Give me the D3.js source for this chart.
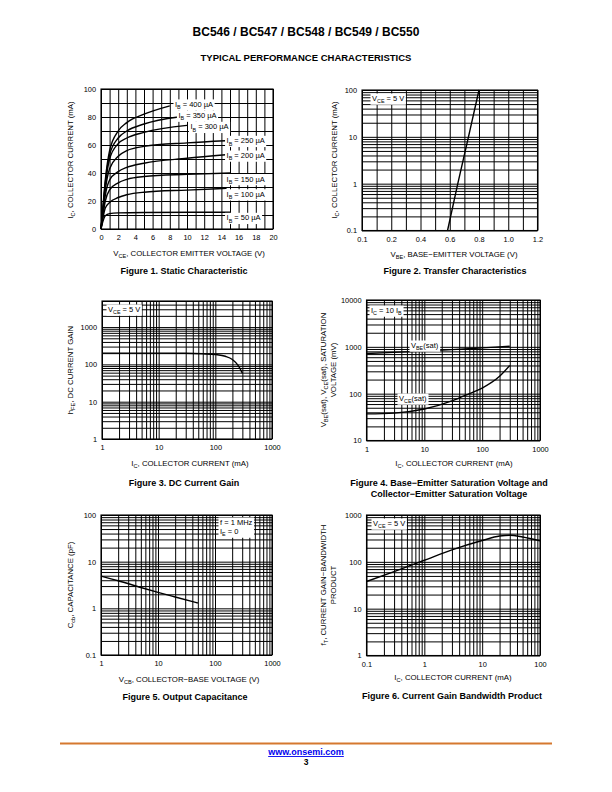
<!DOCTYPE html>
<html>
<head>
<meta charset="utf-8">
<script src="https://cdn.jsdelivr.net/npm/d3@7"></script>
<style>
body { margin: 0; background: #fff; }
text { font-family: "Liberation Sans", Arial, Helvetica, sans-serif; fill: #000; }
</style>
</head>
<body>
<svg id="page" width="612" height="792"></svg>
<script>

// Figure 1 - static characteristic, points are [VCE (V), IC (mA)]
var ib400 = [[0,0],[0.2,14],[0.5,35],[1,56],[2,70],[3,76],[5,82],[8,88]];
var ib350 = [[0,0],[0.2,13],[0.5,33],[1,53],[2,65],[3,70],[5,75],[9,80]];
var ib300 = [[0,0],[0.2,12],[0.5,31],[1,50],[2,61],[3,65],[5,69],[10,74]];
var ib250 = [[0,0],[0.2,11],[0.5,28],[1,43],[2,52],[3,56],[5,59],[10,61.5],[14.5,63]];
var ib200 = [[0,0],[0.2,10],[0.5,24],[1,35],[2,41],[3,44],[5,47],[10,50.5],[14.5,53]];
var ib150 = [[0,0],[0.2,9],[0.5,20],[1,28],[2,33],[3,35.5],[5,37.5],[10,39],[15,40]];
var ib100 = [[0,0],[0.2,7],[0.5,15],[1,19],[2,22.5],[3,24.5],[5,26.3],[10,27.8],[14.6,29]];
var ib50  = [[0,0],[0.2,5],[0.5,9.5],[1,11],[2,11.5],[5,11.8],[15,12]];
var fig1Curves = [ib400, ib350, ib300, ib250, ib200, ib150, ib100, ib50];
var fig1Names = ["I_{B} = 400 µA","I_{B} = 350 µA","I_{B} = 300 µA","I_{B} = 250 µA",
                 "I_{B} = 200 µA","I_{B} = 150 µA","I_{B} = 100 µA","I_{B} = 50 µA"];
// where each label sits, [VCE, IC] of the label's left / middle
var fig1LabelAt = [[8.6,89],[9.0,81],[10.4,73],[14.6,63],[14.6,52.5],[14.6,35.7],[14.6,24.8],[14.6,8]];
var fig1XTicks = [0,2,4,6,8,10,12,14,16,18,20];
var fig1YTicks = [0,20,40,60,80,100];

// Figure 2 - transfer characteristic, [VBE (V), IC (mA)]
var vbeCurve = [[0.585,0.1],[0.655,1],[0.728,10],[0.8,100]];
var fig2XTicks = [0,0.2,0.4,0.6,0.8,1.0,1.2];
var fig2XLabels = ["0.1","0.2","0.4","0.6","0.8","1.0","1.2"];
var fig2YTicks = [0.1,1,10,100];

// Figure 3 - DC current gain, [IC (mA), hFE]
var hfeCurve = [[1,200],[3,200],[10,200],[30,198],[60,192],[100,183],[150,165],[200,135],[250,95],[300,58]];
var fig3YTicks = [1,10,100,1000];

// Figure 4 - saturation voltages, [IC (mA), V (mV)]
var vbeSat = [[1,720],[3,760],[10,810],[30,870],[100,950],[300,1030]];
var vceSat = [[1,37],[3,38.5],[10,47],[30,70],[60,100],[100,132],[200,235],[300,400]];
var fig4YTicks = [10,100,1000,10000];

// Figure 5 - output capacitance, [VCB (V), Ccb (pF)]
var cobCurve = [[1,4.9],[2,3.9],[5,2.8],[10,2.2],[20,1.75],[50,1.3]];

// Figure 6 - gain bandwidth product, [IC (mA), fT (MHz)]
var ftCurve = [[0.1,38],[0.3,62],[1,108],[3,180],[10,285],[20,355],[30,370],[50,340],[100,280]];

var logTicks3 = [1,10,100,1000];
var logTicksSmall = [0.1,1,10,100];

var svg = d3.select("#page");

// text with _{..} parts drawn as subscripts
function rich(t, str, fs) {
    var parts = str.split(/_\{([^}]*)\}/), shift = 0;
    for (var i = 0; i < parts.length; i++) {
        if (parts[i] === "") continue;
        var ts = t.append("tspan").text(parts[i]);
        if (i % 2 == 1) {
            ts.attr("font-size", fs * 0.72).attr("dy", fs * 0.3);
            shift = fs * 0.3;
        } else if (shift) {
            ts.attr("dy", -shift);
            shift = 0;
        }
    }
    return t;
}

function txt(g, x, y, str, fs, anchor, weight) {
    var t = g.append("text")
        .attr("x", x).attr("y", y)
        .attr("font-size", fs)
        .attr("text-anchor", anchor || "start")
        .attr("font-weight", weight || "normal");
    return rich(t, str, fs);
}

// label on a white patch that hides the grid
function boxLabel(g, x, y, lines, fs) {
    var nodes = [];
    lines.forEach(function(s, i) {
        nodes.push(txt(g, x, y + i * fs * 1.2, s, fs).node());
    });
    var x0 = Infinity, y0 = Infinity, x1 = -Infinity, y1 = -Infinity;
    nodes.forEach(function(n) {
        var b = n.getBBox();
        x0 = Math.min(x0, b.x); y0 = Math.min(y0, b.y);
        x1 = Math.max(x1, b.x + b.width); y1 = Math.max(y1, b.y + b.height);
    });
    g.insert("rect", function() { return nodes[0]; })
        .attr("x", x0 - 1.5).attr("y", y0 - 0.5)
        .attr("width", x1 - x0 + 3).attr("height", y1 - y0 + 1)
        .attr("fill", "#fff");
}

function logLines(dom) {
    var out = [];
    for (var e = Math.floor(Math.log10(dom[0])); e <= Math.ceil(Math.log10(dom[1])); e++) {
        for (var k = 1; k <= 9; k++) {
            var v = +(k * Math.pow(10, e)).toPrecision(6);
            if (v >= dom[0] * 0.9999 && v <= dom[1] * 1.0001) out.push(v);
        }
    }
    return out;
}

function fmt(v) { return String(+v.toPrecision(6)); }

function panel(o) {
    var g = svg.append("g");
    var x = (o.xlog ? d3.scaleLog() : d3.scaleLinear()).domain(o.xd).range([o.l, o.r]);
    var y = (o.ylog ? d3.scaleLog() : d3.scaleLinear()).domain(o.yd).range([o.b, o.t]);
    var xs = o.xlog ? logLines(o.xd) : d3.range(o.xd[0], o.xd[1] + 1e-9, o.xgrid);
    var ys = o.ylog ? logLines(o.yd) : d3.range(o.yd[0], o.yd[1] + 1e-9, o.ygrid);

    var gx = g.append("g").attr("transform", "translate(0," + o.b + ")")
        .call(d3.axisBottom(x).tickValues(xs).tickSize(-(o.b - o.t)).tickFormat(""));
    var gy = g.append("g").attr("transform", "translate(" + o.l + ",0)")
        .call(d3.axisLeft(y).tickValues(ys).tickSize(-(o.r - o.l)).tickFormat(""));
    [gx, gy].forEach(function(a) {
        a.select(".domain").remove();
        a.selectAll("line").attr("stroke", "#000").attr("stroke-width", 1);
    });

    g.append("rect")
        .attr("x", o.l).attr("y", o.t)
        .attr("width", o.r - o.l).attr("height", o.b - o.t)
        .attr("fill", "none").attr("stroke", "#000").attr("stroke-width", 1.1);

    var xl = o.xlabels, yl = o.ylabels;
    var ax = g.append("g").attr("transform", "translate(0," + o.b + ")")
        .call(d3.axisBottom(x).tickValues(o.xticks).tickSize(0).tickPadding(6)
            .tickFormat(function(d, i) { return xl ? xl[i] : fmt(d); }));
    var ay = g.append("g").attr("transform", "translate(" + o.l + ",0)")
        .call(d3.axisLeft(y).tickValues(o.yticks).tickSize(0).tickPadding(5)
            .tickFormat(function(d, i) { return yl ? yl[i] : fmt(d); }));
    [ax, ay].forEach(function(a) {
        a.select(".domain").remove();
        a.attr("font-family", null).attr("font-size", null);
        a.selectAll("text").attr("font-size", 7.4).attr("fill", "#000");
    });

    txt(g, o.xlx, o.xly, o.xlabel, 7.8, "middle");
    o.ylabel.forEach(function(s, i) {
        var t = g.append("text")
            .attr("transform", "translate(" + o.ylx[i] + "," + o.yly + ") rotate(-90)")
            .attr("font-size", 7.8).attr("text-anchor", "middle");
        rich(t, s, 7.8);
    });
    o.caption.forEach(function(s, i) {
        txt(g, o.capx, o.capy + i * 11, s, 9, "middle", "bold");
    });
    return { g: g, x: x, y: y };
}

function curve(p, data, smooth) {
    var line = d3.line()
        .x(function(d) { return p.x(d[0]); })
        .y(function(d) { return p.y(d[1]); })
        .curve(smooth ? d3.curveMonotoneX : d3.curveLinear);
    p.g.append("path").datum(data)
        .attr("d", line)
        .attr("fill", "none")
        .attr("stroke", "#000")
        .attr("stroke-width", 1.4);
}

// page heading
txt(svg, 306, 35.5, "BC546 / BC547 / BC548 / BC549 / BC550", 12, "middle", "bold");
txt(svg, 306, 60.5, "TYPICAL PERFORMANCE CHARACTERISTICS", 9.5, "middle", "bold");

// Figure 1
var p1 = panel({
    l: 101, r: 273, t: 89, b: 229,
    xd: [0, 20], yd: [0, 100], xgrid: 1, ygrid: 10,
    xticks: fig1XTicks, yticks: fig1YTicks,
    xlabel: "V_{CE}, COLLECTOR EMITTER VOLTAGE (V)", xlx: 189, xly: 255.5,
    ylabel: ["I_{C}, COLLECTOR CURRENT (mA)"], ylx: [72.8], yly: 160,
    caption: ["Figure 1. Static Characteristic"], capx: 184, capy: 274.3
});
fig1Curves.forEach(function(c) { curve(p1, c, true); });
fig1Names.forEach(function(s, i) {
    boxLabel(p1.g, p1.x(fig1LabelAt[i][0]), p1.y(fig1LabelAt[i][1]) + 2.5, [s], 7.5);
});

// Figure 2
var p2 = panel({
    l: 362, r: 537.5, t: 90, b: 230.5,
    xd: [0, 1.2], yd: [0.1, 100], ylog: true, xgrid: 0.1,
    xticks: fig2XTicks, xlabels: fig2XLabels, yticks: fig2YTicks,
    xlabel: "V_{BE}, BASE−EMITTER VOLTAGE (V)", xlx: 454, xly: 256.5,
    ylabel: ["I_{C}, COLLECTOR CURRENT (mA)"], ylx: [336.8], yly: 160,
    caption: ["Figure 2. Transfer Characteristics"], capx: 455, capy: 274.3
});
curve(p2, vbeCurve, false);
boxLabel(p2.g, 372, 101, ["V_{CE} = 5 V"], 7.5);

// Figure 3
var p3 = panel({
    l: 102, r: 272, t: 301, b: 439,
    xd: [1, 1000], yd: [1, 5000], xlog: true, ylog: true,
    xticks: logTicks3, yticks: fig3YTicks,
    xlabel: "I_{C}, COLLECTOR CURRENT (mA)", xlx: 190, xly: 465.5,
    ylabel: ["h_{FE}, DC CURRENT GAIN"], ylx: [72.8], yly: 370,
    caption: ["Figure 3. DC Current Gain"], capx: 184, capy: 486.3
});
curve(p3, hfeCurve, true);
boxLabel(p3.g, 108, 312, ["V_{CE} = 5 V"], 7.5);

// Figure 4
var p4 = panel({
    l: 366.5, r: 540, t: 300, b: 440.5,
    xd: [1, 1000], yd: [10, 10000], xlog: true, ylog: true,
    xticks: logTicks3, yticks: fig4YTicks,
    xlabel: "I_{C}, COLLECTOR CURRENT (mA)", xlx: 454, xly: 465.5,
    ylabel: ["V_{BE}(sat), V_{CE}(sat), SATURATION", "VOLTAGE (mV)"], ylx: [325.8, 335.8], yly: 370,
    caption: ["Figure 4. Base−Emitter Saturation Voltage and", "Collector−Emitter Saturation Voltage"],
    capx: 449, capy: 486.3
});
curve(p4, vbeSat, true);
curve(p4, vceSat, true);
boxLabel(p4.g, 371, 313, ["I_{C} = 10 I_{B}"], 7.5);
boxLabel(p4.g, 411, 348, ["V_{BE}(sat)"], 7.5);
boxLabel(p4.g, 399, 401, ["V_{CE}(sat)"], 7.5);

// Figure 5
var p5 = panel({
    l: 101, r: 272, t: 515, b: 655,
    xd: [1, 1000], yd: [0.1, 100], xlog: true, ylog: true,
    xticks: logTicks3, yticks: logTicksSmall,
    xlabel: "V_{CB}, COLLECTOR−BASE VOLTAGE (V)", xlx: 189, xly: 681.5,
    ylabel: ["C_{cb}, CAPACITANCE (pF)"], ylx: [72.8], yly: 585,
    caption: ["Figure 5. Output Capacitance"], capx: 185, capy: 700
});
curve(p5, cobCurve, true);
boxLabel(p5.g, 220, 525, ["f = 1 MHz", "I_{E} = 0"], 7.5);

// Figure 6
var p6 = panel({
    l: 366.5, r: 540, t: 515, b: 655.5,
    xd: [0.1, 100], yd: [1, 1000], xlog: true, ylog: true,
    xticks: logTicksSmall, yticks: logTicks3,
    xlabel: "I_{C}, COLLECTOR CURRENT (mA)", xlx: 453, xly: 679.5,
    ylabel: ["f_{T}, CURRENT GAIN−BANDWIDTH", "PRODUCT"], ylx: [325.8, 335.8], yly: 585,
    caption: ["Figure 6. Current Gain Bandwidth Product"], capx: 452, capy: 698.5
});
curve(p6, ftCurve, true);
boxLabel(p6.g, 373, 526, ["V_{CE} = 5 V"], 7.5);

// footer
svg.append("line")
    .attr("x1", 60).attr("x2", 552).attr("y1", 743.5).attr("y2", 743.5)
    .attr("stroke", "#d5782f").attr("stroke-width", 2);
txt(svg, 306, 755, "www.onsemi.com", 9, "middle", "bold")
    .attr("text-decoration", "underline").style("fill", "#0000ee");
txt(svg, 306, 765, "3", 8.5, "middle", "bold");

</script>
</body>
</html>
